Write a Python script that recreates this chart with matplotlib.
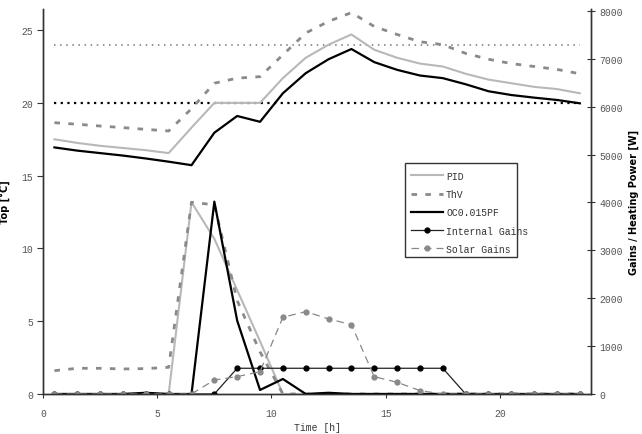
import numpy as np
import matplotlib
matplotlib.use('Agg')
import matplotlib.pyplot as plt
from matplotlib.patches import Rectangle

# hourly values, plotted at the middle of each hour
hours = [0.5, 1.5, 2.5, 3.5, 4.5, 5.5, 6.5, 7.5, 8.5, 9.5, 10.5, 11.5,
         12.5, 13.5, 14.5, 15.5, 16.5, 17.5, 18.5, 19.5, 20.5, 21.5, 22.5, 23.5]

# operative temperature [degC]
T_pid = [17.5, 17.25, 17.05, 16.9, 16.75, 16.55, 18.3, 20.0, 20.0, 20.0, 21.7, 23.1,
         24.0, 24.7, 23.65, 23.1, 22.7, 22.5, 22.0, 21.6, 21.35, 21.1, 20.95, 20.66]
T_thv = [18.64, 18.53, 18.41, 18.3, 18.18, 18.07, 19.6, 21.35, 21.7, 21.8, 23.3, 24.8,
         25.6, 26.2, 25.25, 24.7, 24.2, 24.0, 23.4, 23.0, 22.7, 22.5, 22.3, 22.0]
T_oc = [16.94, 16.72, 16.55, 16.38, 16.18, 15.96, 15.72, 17.95, 19.1, 18.7, 20.66, 22.04,
        23.0, 23.7, 22.8, 22.27, 21.88, 21.7, 21.28, 20.8, 20.54, 20.36, 20.2, 19.97]

# heating power [W]
Q_pid = [0, 0, 0, 0, 0, 0, 4005, 3240, 2170, 1100, 0, 0,
         0, 0, 0, 0, 0, 0, 0, 0, 0, 0, 0, 0]
Q_thv = [487, 536, 536, 522, 530, 557, 4005, 3950, 1950, 880, 0, 0,
         0, 0, 0, 0, 0, 0, 0, 0, 0, 0, 0, 0]
Q_oc = [0, 0, 0, 0, 25, 0, 0, 4017, 1531, 84, 313, 0,
        25, 0, 0, 0, 0, 0, 0, 0, 0, 0, 0, 0]

# gains [W]
Q_int = [0, 0, 0, 0, 0, 0, 0, 0, 537, 537, 537, 537,
         537, 537, 537, 537, 537, 537, 0, 0, 0, 0, 0, 0]
Q_sol = [0, 0, 0, 0, 0, 0, 0, 292, 362, 466, 1602, 1720,
         1567, 1448, 362, 244, 70, 0, 0, 0, 0, 0, 0, 0]

T_upper = 24
T_lower = 20

mono = 'Liberation Mono'
tick_col = '#555555'
c_pid = '#b8b8b8'
c_thv = '#8a8a8a'

fig = plt.figure(figsize=(6.42, 4.35), dpi=100)
ax1 = fig.add_axes([0.067, 0.092, 0.854, 0.885])
ax2 = ax1.twinx()

# comfort band
ax1.plot([hours[0], hours[-1]], [T_upper, T_upper], color='#777777', linestyle=(0, (1, 3)), linewidth=1.1)
ax1.plot([hours[0], hours[-1]], [T_lower, T_lower], color='black', linestyle=(0, (1, 2)), linewidth=1.6)

# temperatures (left axis)
l_pid, = ax1.plot(hours, T_pid, color=c_pid, linewidth=1.5, label='PID')
l_thv, = ax1.plot(hours, T_thv, color=c_thv, linewidth=2, linestyle=(0, (2, 3)), label='ThV')
l_oc, = ax1.plot(hours, T_oc, color='black', linewidth=1.6, label='OC0.015PF')

# heating power and gains (right axis)
ax2.plot(hours, Q_pid, color=c_pid, linewidth=1.5)
ax2.plot(hours, Q_thv, color=c_thv, linewidth=2, linestyle=(0, (2, 3)))
ax2.plot(hours, Q_oc, color='black', linewidth=1.6)
l_int, = ax2.plot(hours, Q_int, color='#222222', linewidth=0.9, marker='o', markersize=3.5,
                  markerfacecolor='black', markeredgecolor='black', label='Internal Gains')
l_sol, = ax2.plot(hours, Q_sol, color='#888888', linewidth=0.9, linestyle=(0, (6, 4)), marker='o',
                  markersize=3.5, markerfacecolor='#8a8a8a', markeredgecolor='#8a8a8a', label='Solar Gains')

ax1.set_xlim(0, 24)
ax1.set_ylim(0, 26.45)
ax2.set_ylim(0, 8040)
ax1.set_xticks([0, 5, 10, 15, 20])
ax1.set_yticks([0, 5, 10, 15, 20, 25])
ax2.set_yticks([0, 1000, 2000, 3000, 4000, 5000, 6000, 7000, 8000])

for ax in (ax1, ax2):
    ax.spines['top'].set_visible(False)
    for s in ('left', 'right', 'bottom'):
        ax.spines[s].set_color('#333333')
        ax.spines[s].set_linewidth(1)
ax1.tick_params(axis='x', direction='out', length=3, pad=7, labelsize=7, labelcolor=tick_col, colors='#333333')
ax1.tick_params(axis='y', direction='out', length=4, pad=3, labelsize=7, labelcolor=tick_col, colors='#333333')
ax2.tick_params(axis='y', direction='inout', length=6, pad=3, labelsize=7, labelcolor=tick_col, colors='#333333')
for lab in ax1.get_xticklabels() + ax1.get_yticklabels() + ax2.get_yticklabels():
    lab.set_family(mono)

ax1.set_xlabel('Time [h]', family=mono, fontsize=7, color='#333333', labelpad=3)
ax1.set_ylabel('Top [°C]', fontsize=7, fontweight='heavy', labelpad=8)
ax2.set_ylabel('Gains / Heating Power [W]', fontsize=7, fontweight='heavy', labelpad=4)

# legend frame is narrower than the longest label in the original
ax2.add_patch(Rectangle((0.6606, 0.356), 0.2044, 0.244, transform=ax2.transAxes,
                        facecolor='white', edgecolor='#333333', linewidth=1, zorder=4.9))
leg = ax2.legend(handles=[l_pid, l_thv, l_oc, l_int, l_sol], loc='upper left',
                 bbox_to_anchor=(0.6606, 0.595), prop={'family': mono, 'size': 7},
                 frameon=False, handlelength=3.3, labelspacing=0.85, borderpad=0.5,
                 borderaxespad=0.1, handletextpad=0.3)
for txt in leg.get_texts():
    txt.set_color('#333333')

fig.savefig('out.png', dpi=100)
